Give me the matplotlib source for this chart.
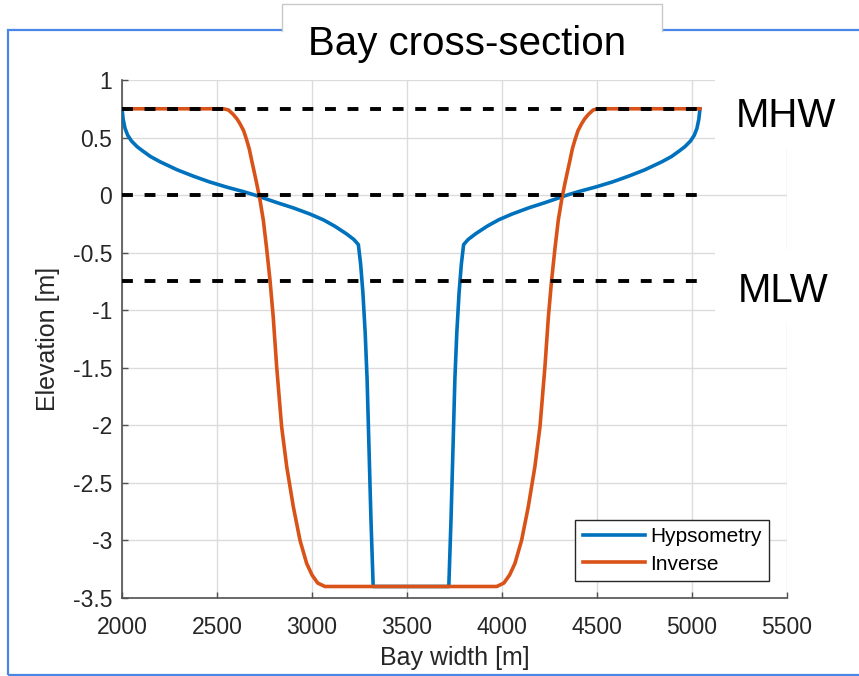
import matplotlib
matplotlib.use("Agg")
import matplotlib.pyplot as plt
from matplotlib.patches import Rectangle
from matplotlib.lines import Line2D
from matplotlib.ticker import FuncFormatter

plt.rcParams["font.family"] = ["Liberation Sans", "DejaVu Sans"]

# ---------------------------------------------------------------------------
# Profile data (bay width [m], elevation [m])
# ---------------------------------------------------------------------------

hyps_x = [2000, 2006, 2016, 2030, 2050, 2080, 2112, 2150, 2200, 2290,
          2375, 2460, 2550, 2640, 2700, 2815, 2900, 2990, 3060, 3120,
          3180, 3220, 3244, 3256, 3268, 3280, 3290, 3300, 3310, 3322,
          3720, 3732, 3742, 3752, 3762, 3774, 3786, 3798, 3822, 3862,
          3922, 3982, 4052, 4142, 4227, 4342, 4402, 4492, 4582, 4667,
          4752, 4842, 4892, 4930, 4962, 4992, 5012, 5026, 5036, 5042]
hyps_z = [0.75, 0.66, 0.58, 0.52, 0.47, 0.42, 0.38, 0.335, 0.29, 0.22,
          0.165, 0.115, 0.07, 0.03, 0.0, -0.065, -0.11, -0.165, -0.215, -0.27,
          -0.335, -0.385, -0.43, -0.6, -0.85, -1.2, -1.6, -2.2, -2.8, -3.4,
          -3.4, -2.8, -2.2, -1.6, -1.2, -0.85, -0.6, -0.43, -0.385, -0.335,
          -0.27, -0.215, -0.165, -0.11, -0.065, 0.0, 0.03, 0.07, 0.115, 0.165,
          0.22, 0.29, 0.335, 0.38, 0.42, 0.47, 0.52, 0.58, 0.66, 0.75]

inv_x = [2000, 2533, 2560, 2586, 2606, 2621, 2640, 2656, 2670, 2682,
         2696, 2709, 2726, 2744, 2761, 2779, 2796, 2814, 2840, 2867,
         2902, 2937, 2972, 3000, 3030, 3068,
         3972, 4010, 4040, 4068, 4103, 4138, 4173, 4200, 4226, 4244,
         4261, 4279, 4296, 4314, 4331, 4344, 4358, 4370, 4384, 4400,
         4419, 4434, 4454, 4480, 4507, 5042]
inv_z = [0.75, 0.75, 0.74, 0.70, 0.66, 0.62, 0.56, 0.48, 0.40, 0.305,
         0.20, 0.10, -0.04, -0.22, -0.46, -0.74, -1.06, -1.49, -2.01, -2.36,
         -2.71, -3.0, -3.2, -3.3, -3.37, -3.4,
         -3.4, -3.37, -3.3, -3.2, -3.0, -2.71, -2.36, -2.01, -1.49, -1.06,
         -0.74, -0.46, -0.22, -0.04, 0.10, 0.20, 0.305, 0.40, 0.48, 0.56,
         0.62, 0.66, 0.70, 0.74, 0.75, 0.75]

# tidal reference levels: MHW, MSL, MLW
tide_levels = [0.75, 0.0, -0.75]
tide_x = [2000, 5042]

x_ticks = [2000, 2500, 3000, 3500, 4000, 4500, 5000, 5500]
y_ticks = [-3.5, -3, -2.5, -2, -1.5, -1, -0.5, 0, 0.5, 1]

BLUE = "#0072BD"
ORANGE = "#D95319"
AXIS = "#262626"

W, H = 859, 676


def fx(px):
    return px / W


def fy(py):
    return 1 - py / H


fig = plt.figure(figsize=(W / 100, H / 100), dpi=100)
ax = fig.add_axes([fx(122), fy(598), fx(787) - fx(122), fy(80) - fy(598)])

ax.plot(hyps_x, hyps_z, color=BLUE, lw=2.6, label="Hypsometry", zorder=3)
ax.plot(inv_x, inv_z, color=ORANGE, lw=2.6, label="Inverse", zorder=3)
for level in tide_levels:
    ax.plot(tide_x, [level, level], color="black", lw=2.8,
            linestyle=(0, (2.8, 3.0)), zorder=4)

ax.set_xlim(2000, 5500)
ax.set_ylim(-3.5, 1)
ax.set_xticks(x_ticks)
ax.set_yticks(y_ticks)
ax.yaxis.set_major_formatter(FuncFormatter(lambda v, _: f"{v:g}"))
ax.grid(True, color="#dcdcdc", lw=1.0)
ax.set_axisbelow(True)

for side in ("top", "right"):
    ax.spines[side].set_visible(False)
for side in ("left", "bottom"):
    ax.spines[side].set_color("#505050")
    ax.spines[side].set_linewidth(1.2)

ax.tick_params(direction="in", length=4, width=1.0, color="#505050",
               labelcolor=AXIS, labelsize=16.5)
ax.tick_params(axis="x", pad=13)
ax.tick_params(axis="y", pad=7)

ax.set_xlabel("Bay width [m]", fontsize=18, color=AXIS, labelpad=5)
ax.set_ylabel("Elevation [m]", fontsize=18, color=AXIS, labelpad=9)

leg = ax.legend(loc="lower right", bbox_to_anchor=(0.973, 0.033),
                fontsize=15, frameon=True, fancybox=False, framealpha=1,
                edgecolor=AXIS, handlelength=3.0, handletextpad=0.25,
                borderpad=0.35, labelspacing=0.4, borderaxespad=0)
leg.get_frame().set_linewidth(1.0)

# slide frame around the plot
fig.add_artist(Rectangle((fx(8), fy(675)), fx(900) - fx(8), fy(30) - fy(675),
                         transform=fig.transFigure, fill=False,
                         edgecolor="#4A86E8", lw=1.6, zorder=1))

# title tab breaking the frame line
fig.add_artist(Rectangle((fx(282), fy(60)), fx(662) - fx(282), fy(4) - fy(60),
                         transform=fig.transFigure, facecolor="white",
                         edgecolor="none", zorder=2))
tab_x = [fx(282), fx(282), fx(662), fx(662)]
tab_y = [fy(31), fy(4), fy(4), fy(31)]
fig.add_artist(Line2D(tab_x, tab_y, transform=fig.transFigure,
                      color="#c8c8c8", lw=1.0, zorder=3))
fig.text(fx(467), fy(55), "Bay cross-section", ha="center", va="baseline",
         fontsize=29, color="black", zorder=4)

# level labels on the right
fig.add_artist(Rectangle((fx(715), fy(148)), fx(859) - fx(715), fy(60) - fy(148),
                         transform=fig.transFigure, facecolor="white",
                         edgecolor="none", zorder=2))
fig.add_artist(Rectangle((fx(715), fy(322)), fx(859) - fx(715), fy(250) - fy(322),
                         transform=fig.transFigure, facecolor="white",
                         edgecolor="none", zorder=2))
fig.text(fx(786), fy(127), "MHW", ha="center", va="baseline",
         fontsize=29, color="black", zorder=4)
fig.text(fx(783), fy(302), "MLW", ha="center", va="baseline",
         fontsize=29, color="black", zorder=4)

fig.savefig("out.png", dpi=100)
